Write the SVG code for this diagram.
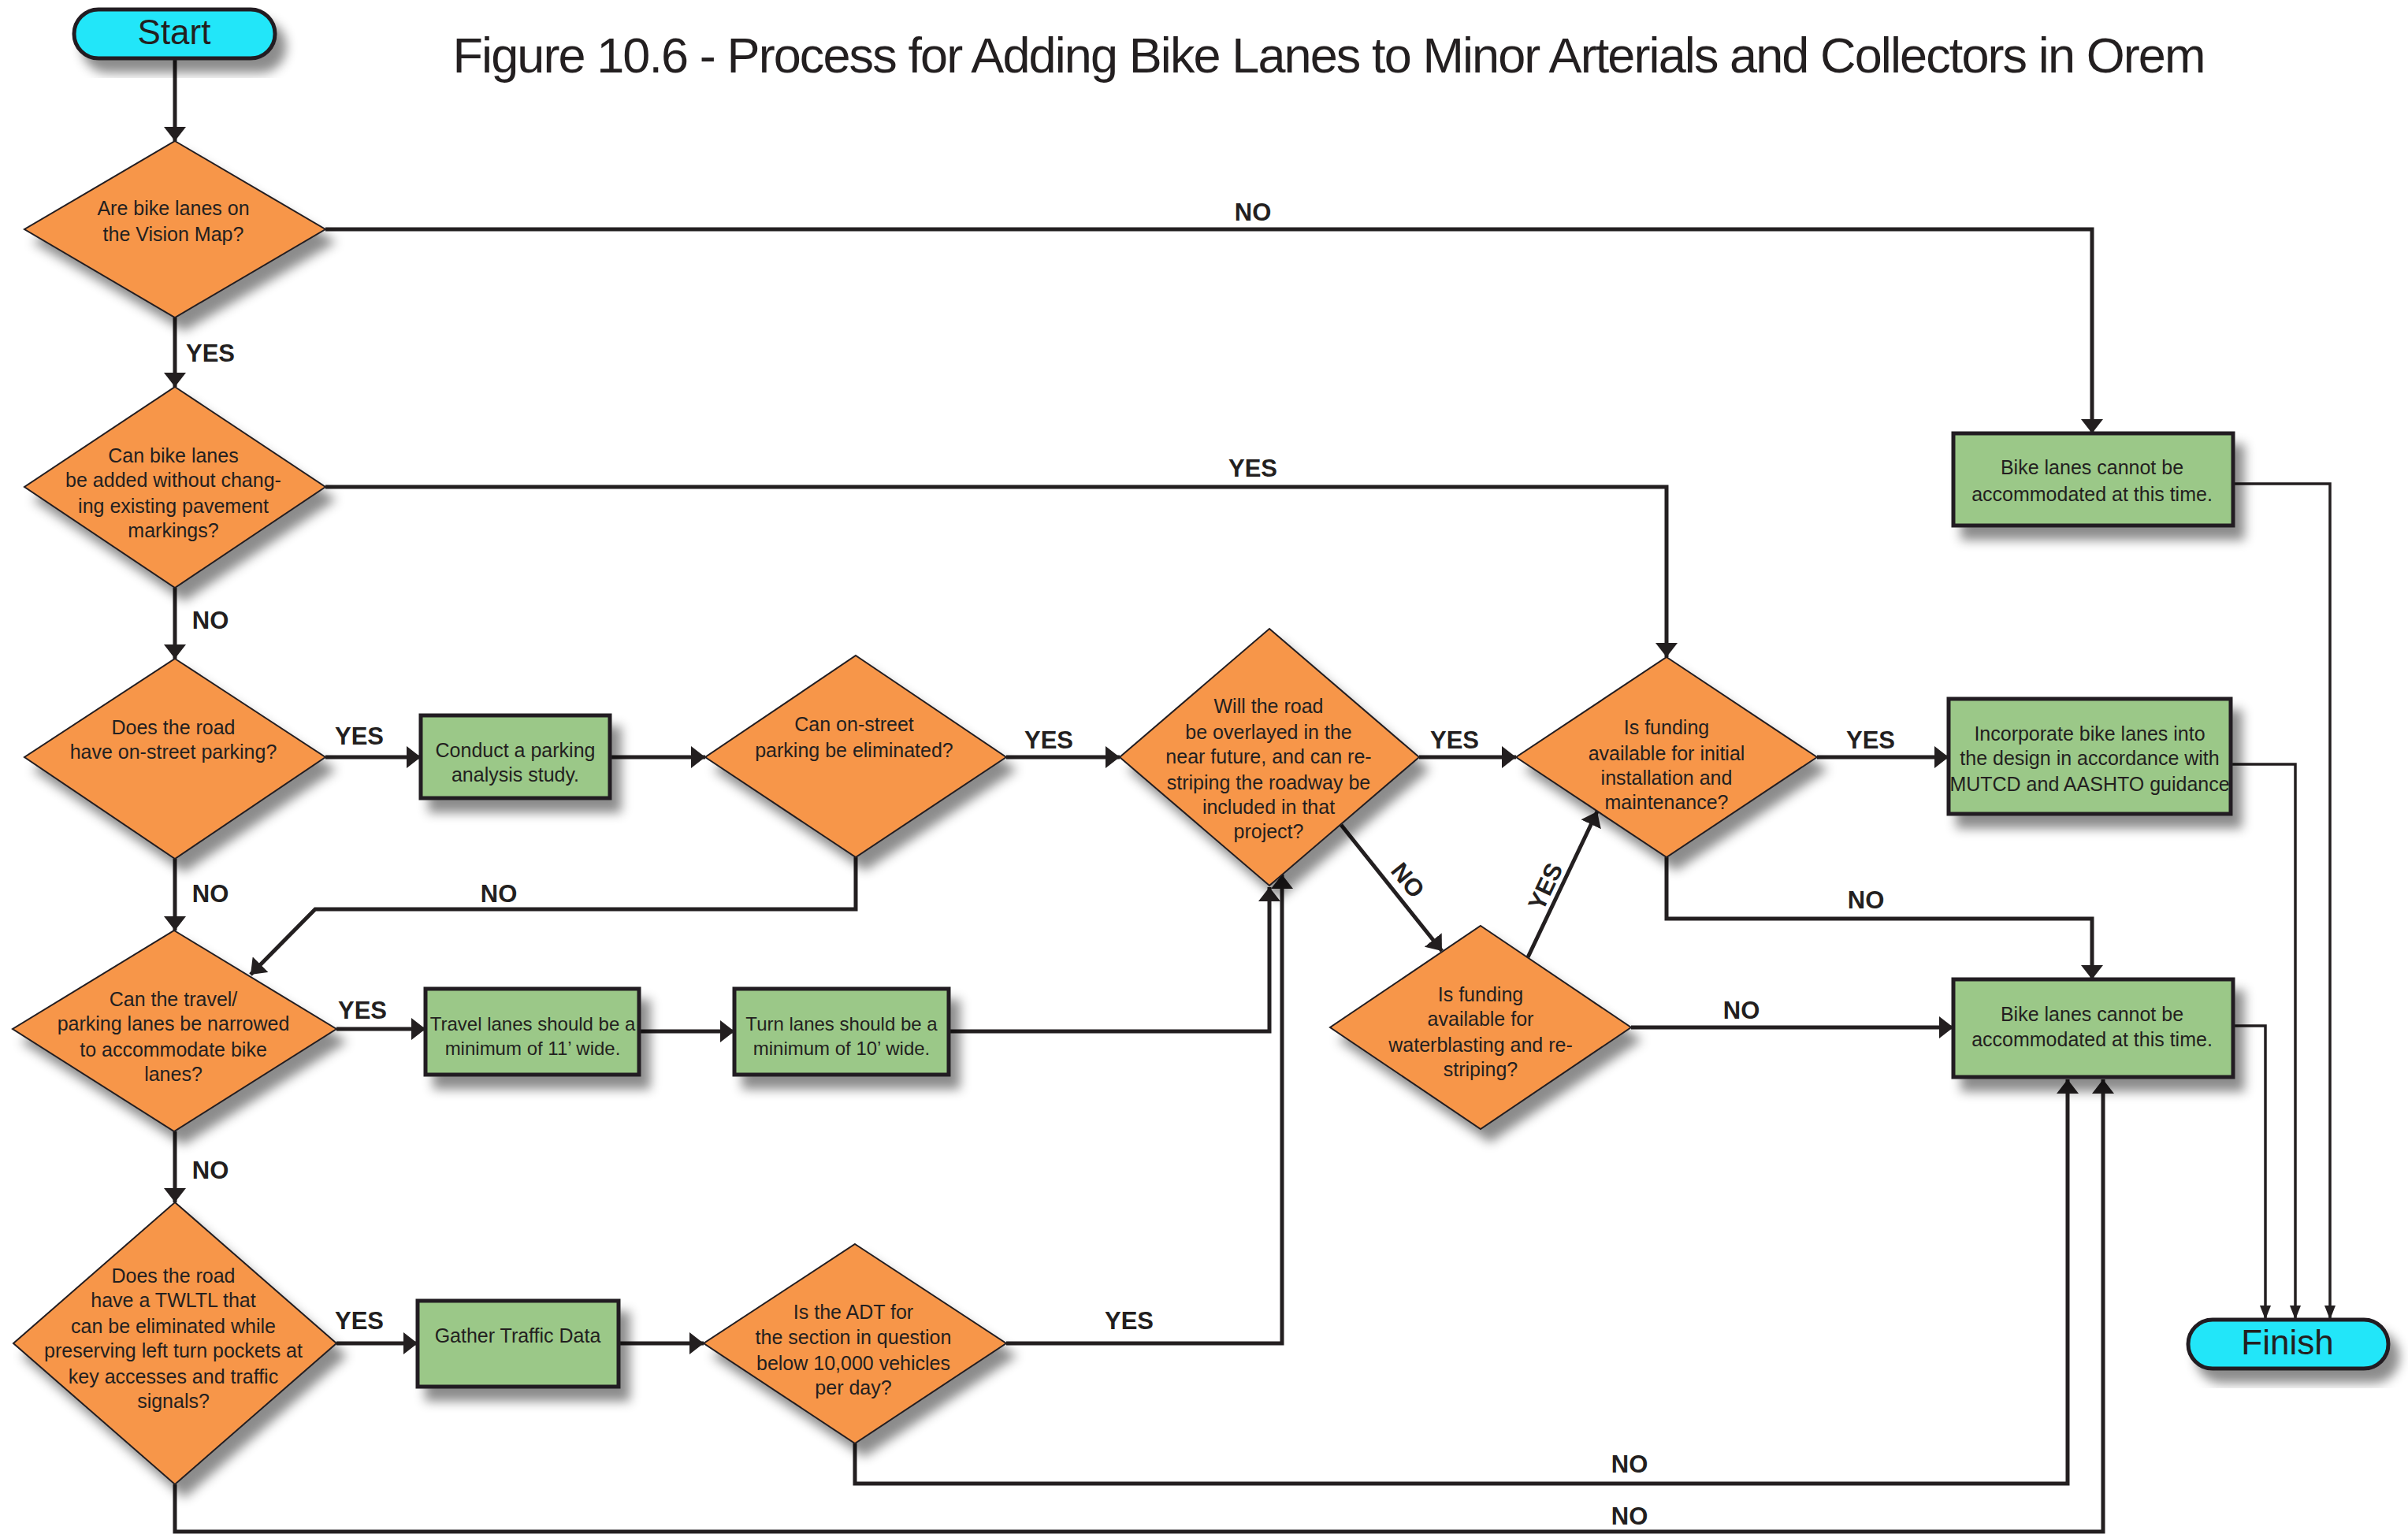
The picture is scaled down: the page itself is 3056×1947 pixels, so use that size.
<svg xmlns="http://www.w3.org/2000/svg" width="3056" height="1947" viewBox="0 0 3056 1947">
<defs>
<style>
.d{fill:#F7964A;stroke:#231F20;stroke-width:2}
.b{fill:#9BC888;stroke:#231F20;stroke-width:5}
.p{fill:#22E6F9;stroke:#231F20;stroke-width:5}
.t{font-family:"Liberation Sans",Arial,sans-serif;font-size:25px;fill:#231F20;text-anchor:middle}
.l{font-family:"Liberation Sans",Arial,sans-serif;font-weight:bold;font-size:31px;fill:#231F20;text-anchor:middle}
.big{font-family:"Liberation Sans",Arial,sans-serif;font-size:44px;fill:#231F20;text-anchor:middle}
.c{fill:none;stroke:#231F20;stroke-width:5;marker-end:url(#ah)}
.f{fill:none;stroke:#231F20;stroke-width:3.5;marker-end:url(#ahs)}
.sh{filter:url(#ds)}
</style>
<filter id="ds" x="-20%" y="-20%" width="150%" height="160%">
<feDropShadow dx="12" dy="16" stdDeviation="7" flood-color="#000" flood-opacity="0.45"/>
</filter>
<marker id="ah" viewBox="0 0 18 28" refX="18" refY="14" markerWidth="18" markerHeight="28" orient="auto" markerUnits="userSpaceOnUse">
<path d="M0,0 L18,14 L0,28 z" fill="#231F20"/>
</marker>
<marker id="ahs" viewBox="0 0 18 14" refX="18" refY="7" markerWidth="18" markerHeight="14" orient="auto" markerUnits="userSpaceOnUse">
<path d="M0,0 L18,7 L0,14 z" fill="#231F20"/>
</marker>
</defs>
<rect width="3056" height="1947" fill="#fff"/>
<text x="1686" y="92" font-family="'Liberation Sans',Arial,sans-serif" font-size="63" letter-spacing="-1.9" fill="#231F20" text-anchor="middle">Figure 10.6 - Process for Adding Bike Lanes to Minor Arterials and Collectors in Orem</text>

<g id="connectors">
<path class="c" d="M222,74 V179"/>
<path class="c" d="M222,403 V491"/>
<path class="c" d="M413,291 H2655 V550"/>
<path class="c" d="M222,746 V836"/>
<path class="c" d="M413,618 H2115 V834"/>
<path class="c" d="M413,961 H534"/>
<path class="c" d="M774,961 H895"/>
<path class="c" d="M1277,961 H1421"/>
<path class="c" d="M1801,961 H1924"/>
<path class="c" d="M2306,961 H2473"/>
<path class="c" d="M222,1090 V1181"/>
<path class="c" d="M1086,1088 V1154 H400 L318,1237"/>
<path class="c" d="M1702,1047 L1830,1207"/>
<path class="c" d="M1939,1215 L2027,1030"/>
<path class="c" d="M2115,1088 V1166 H2655 V1243"/>
<path class="c" d="M2070,1304 H2479"/>
<path class="c" d="M427,1306 H540"/>
<path class="c" d="M811,1309 H932"/>
<path class="c" d="M1204,1309 H1611 V1126"/>
<path class="c" d="M222,1436 V1526"/>
<path class="c" d="M427,1705 H530"/>
<path class="c" d="M785,1705 H893"/>
<path class="c" d="M1277,1705 H1627 V1110"/>
<path class="c" d="M1085,1832 V1883 H2624 V1370"/>
<path class="c" d="M222,1884 V1944 H2669 V1370"/>
<path class="f" d="M2834,614 H2957 V1675"/>
<path class="f" d="M2831,970 H2913 V1675"/>
<path class="f" d="M2834,1302 H2875 V1675"/>
<text class="l" x="1590" y="280">NO</text>
<text class="l" x="267" y="459">YES</text>
<text class="l" x="1590" y="605">YES</text>
<text class="l" x="267" y="798">NO</text>
<text class="l" x="456" y="945">YES</text>
<text class="l" x="1331" y="950">YES</text>
<text class="l" x="1846" y="950">YES</text>
<text class="l" x="2374" y="950">YES</text>
<text class="l" x="267" y="1145">NO</text>
<text class="l" x="633" y="1145">NO</text>
<text class="l" x="2368" y="1153">NO</text>
<text class="l" x="460" y="1293">YES</text>
<text class="l" x="2210" y="1293">NO</text>
<text class="l" x="267" y="1496">NO</text>
<text class="l" x="456" y="1687">YES</text>
<text class="l" x="1433" y="1687">YES</text>
<text class="l" x="2068" y="1869">NO</text>
<text class="l" x="2068" y="1935">NO</text>
<text class="l" transform="translate(1787,1117) rotate(51)" y="11">NO</text>
<text class="l" transform="translate(1961,1125) rotate(-64.6)" y="11">YES</text>
</g>

<g id="start">
<rect class="p sh" x="94" y="12" width="255" height="62" rx="31"/>
<text class="big" x="221" y="56">Start</text>
</g>
<g id="finish">
<rect class="p sh" x="2777" y="1675" width="254" height="62" rx="31"/>
<text class="big" x="2903" y="1719">Finish</text>
</g>

<g id="d1">
<polygon class="d sh" points="222,179 413,291 222,403 31,291"/>
<text class="t" x="220" y="273">Are bike lanes on</text>
<text class="t" x="220" y="306">the Vision Map?</text>
</g>
<g id="d2">
<polygon class="d sh" points="222,491 413,618 222,746 31,618"/>
<text class="t" x="220" y="587">Can bike lanes</text>
<text class="t" x="220" y="618">be added without chang-</text>
<text class="t" x="220" y="651">ing existing pavement</text>
<text class="t" x="220" y="682">markings?</text>
</g>
<g id="d3">
<polygon class="d sh" points="222,836 413,961 222,1090 31,961"/>
<text class="t" x="220" y="932">Does the road</text>
<text class="t" x="220" y="963">have on-street parking?</text>
</g>
<g id="conduct">
<rect class="b sh" x="534" y="908" width="240" height="105"/>
<text class="t" x="654" y="961">Conduct a parking</text>
<text class="t" x="654" y="992">analysis study.</text>
</g>
<g id="d4">
<polygon class="d sh" points="1086,832 1277,961 1086,1088 895,961"/>
<text class="t" x="1084" y="928">Can on-street</text>
<text class="t" x="1084" y="961">parking be eliminated?</text>
</g>
<g id="d5">
<polygon class="d sh" points="1611,798 1801,961 1611,1124 1421,961"/>
<text class="t" x="1610" y="905">Will the road</text>
<text class="t" x="1610" y="938">be overlayed in the</text>
<text class="t" x="1610" y="969">near future, and can re-</text>
<text class="t" x="1610" y="1002">striping the roadway be</text>
<text class="t" x="1610" y="1033">included in that</text>
<text class="t" x="1610" y="1064">project?</text>
</g>
<g id="d6">
<polygon class="d sh" points="2115,834 2306,961 2115,1088 1924,961"/>
<text class="t" x="2115" y="932">Is funding</text>
<text class="t" x="2115" y="965">available for initial</text>
<text class="t" x="2115" y="996">installation and</text>
<text class="t" x="2115" y="1027">maintenance?</text>
</g>
<g id="nobike1">
<rect class="b sh" x="2479" y="550" width="355" height="117"/>
<text class="t" x="2655" y="602">Bike lanes cannot be</text>
<text class="t" x="2655" y="636">accommodated at this time.</text>
</g>
<g id="incorporate">
<rect class="b sh" x="2473" y="887" width="358" height="146"/>
<text class="t" x="2652" y="940">Incorporate bike lanes into</text>
<text class="t" x="2652" y="971">the design in accordance with</text>
<text class="t" x="2652" y="1004">MUTCD and AASHTO guidance</text>
</g>
<g id="d7">
<polygon class="d sh" points="1879,1175 2070,1304 1879,1433 1688,1304"/>
<text class="t" x="1879" y="1271">Is funding</text>
<text class="t" x="1879" y="1302">available for</text>
<text class="t" x="1879" y="1335">waterblasting and re-</text>
<text class="t" x="1879" y="1366">striping?</text>
</g>
<g id="nobike2">
<rect class="b sh" x="2479" y="1243" width="355" height="124"/>
<text class="t" x="2655" y="1296">Bike lanes cannot be</text>
<text class="t" x="2655" y="1328">accommodated at this time.</text>
</g>
<g id="dtravel">
<polygon class="d sh" points="221,1181 427,1306 221,1436 16,1306"/>
<text class="t" x="220" y="1277">Can the travel/</text>
<text class="t" x="220" y="1308">parking lanes be narrowed</text>
<text class="t" x="220" y="1341">to accommodate bike</text>
<text class="t" x="220" y="1372">lanes?</text>
</g>
<g id="travel">
<rect class="b sh" x="540" y="1255" width="271" height="109"/>
<text class="t" x="676" y="1308" style="font-size:24px">Travel lanes should be a</text>
<text class="t" x="676" y="1339" style="font-size:24px">minimum of 11’ wide.</text>
</g>
<g id="turn">
<rect class="b sh" x="932" y="1255" width="272" height="109"/>
<text class="t" x="1068" y="1308" style="font-size:24px">Turn lanes should be a</text>
<text class="t" x="1068" y="1339" style="font-size:24px">minimum of 10’ wide.</text>
</g>
<g id="dtwltl">
<polygon class="d sh" points="222,1526 427,1705 222,1884 17,1705"/>
<text class="t" x="220" y="1628">Does the road</text>
<text class="t" x="220" y="1659">have a TWLTL that</text>
<text class="t" x="220" y="1692">can be eliminated while</text>
<text class="t" x="220" y="1723">preserving left turn pockets at</text>
<text class="t" x="220" y="1756">key accesses and traffic</text>
<text class="t" x="220" y="1787">signals?</text>
</g>
<g id="gather">
<rect class="b sh" x="530" y="1651" width="255" height="109"/>
<text class="t" x="657" y="1704">Gather Traffic Data</text>
</g>
<g id="dadt">
<polygon class="d sh" points="1085,1579 1277,1705 1085,1832 893,1705"/>
<text class="t" x="1083" y="1674">Is the ADT for</text>
<text class="t" x="1083" y="1706">the section in question</text>
<text class="t" x="1083" y="1739">below 10,000 vehicles</text>
<text class="t" x="1083" y="1770">per day?</text>
</g>
</svg>
